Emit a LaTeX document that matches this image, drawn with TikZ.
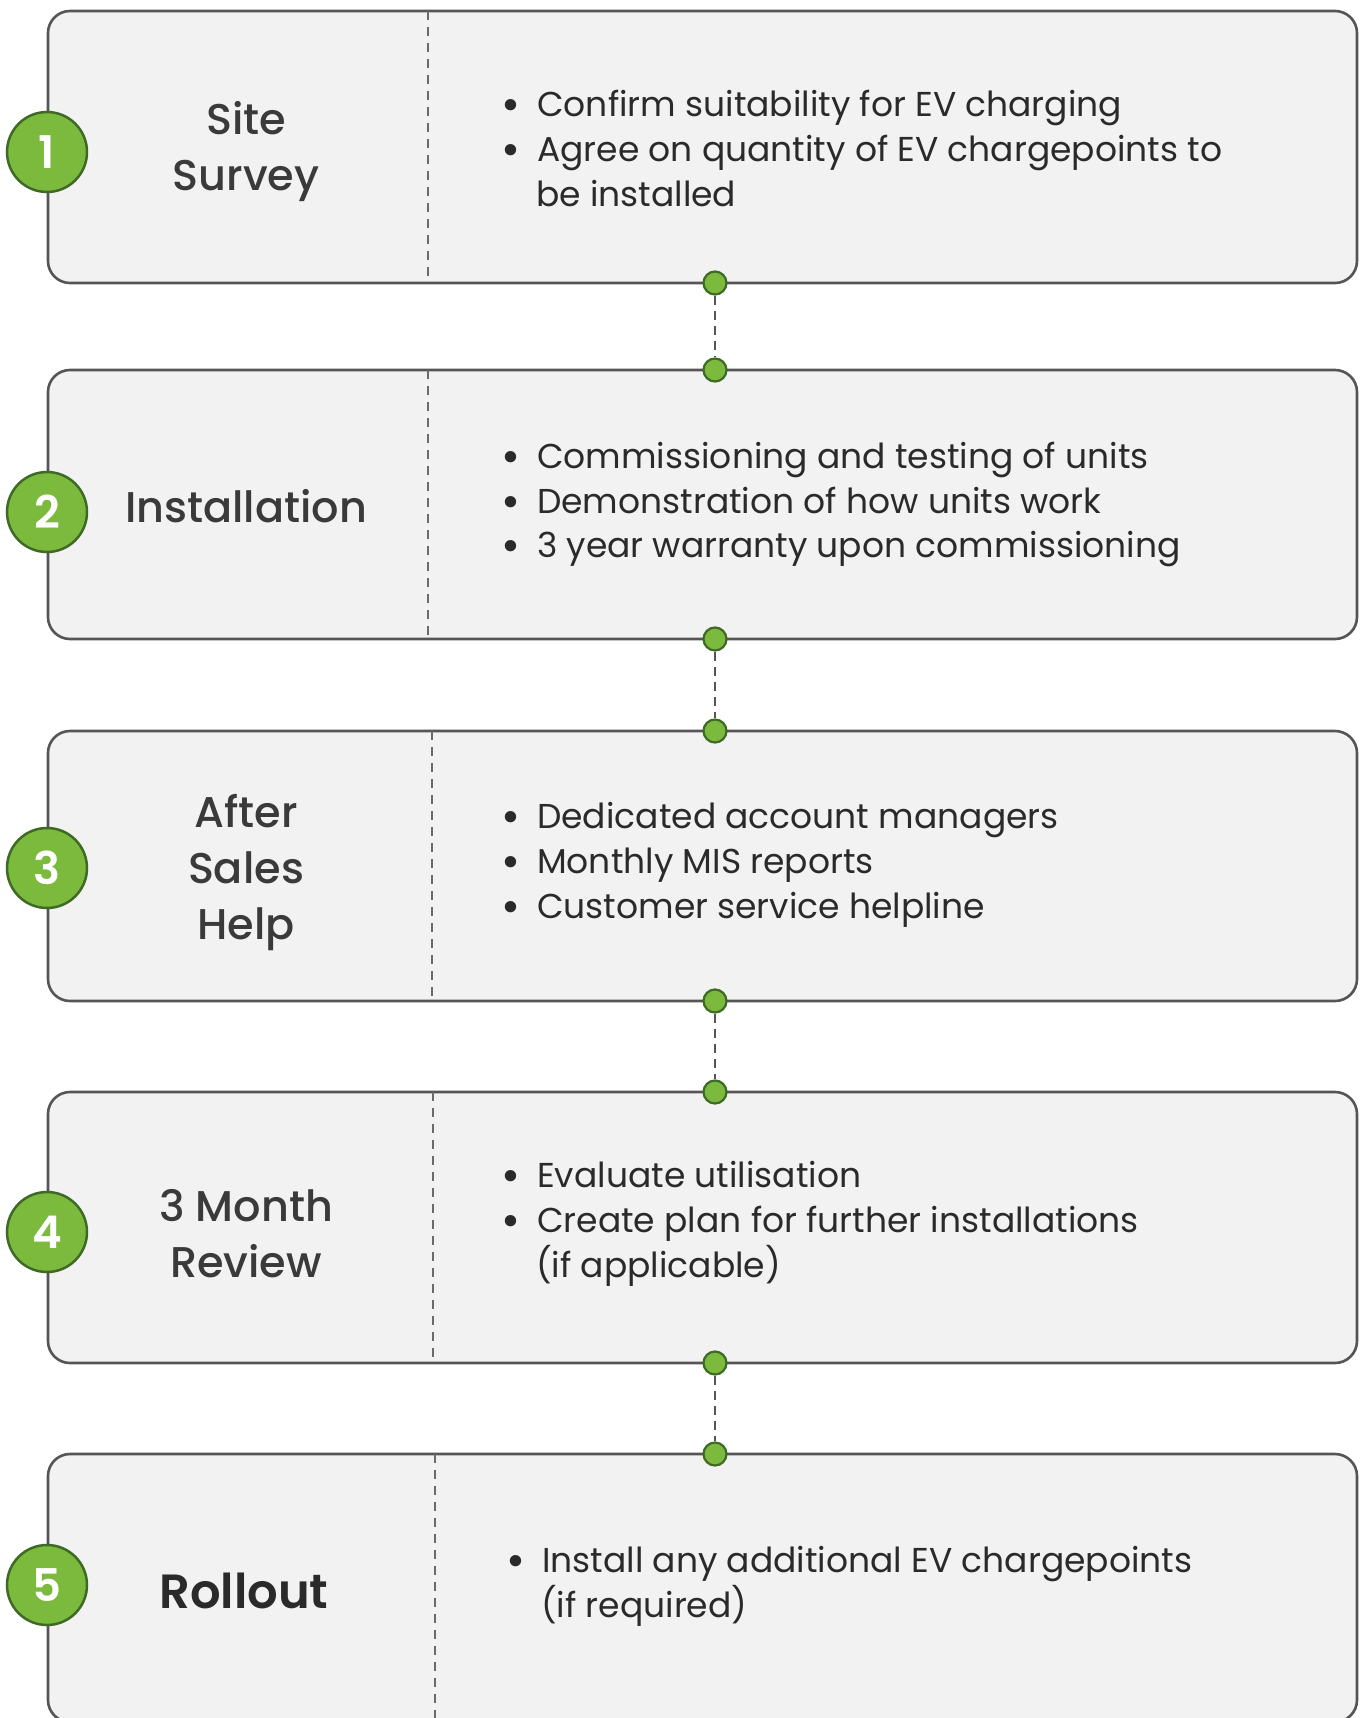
\documentclass[tikz,border=0pt]{standalone}
\usepackage{fontspec}
\setmainfont{Poppins}
\newfontfamily\headfont{Poppins}[UprightFont=* Medium]
\newfontfamily\boldhead{Poppins}[UprightFont=* SemiBold]
\definecolor{boxfill}{HTML}{F2F2F2}
\definecolor{boxline}{HTML}{555555}
\definecolor{divline}{HTML}{6A6A6A}
\definecolor{leaf}{HTML}{7CBA3D}
\definecolor{leafdark}{HTML}{3F6A25}
\definecolor{headtext}{HTML}{3A3A3A}
\definecolor{bodytext}{HTML}{2A2A2A}
\begin{document}
\begin{tikzpicture}[x=1pt,y=-1pt,
  stagebox/.style={draw=boxline, line width=2.6pt, fill=boxfill, rounded corners=22pt,
    minimum width=1309pt, inner sep=0pt},
  divider/.style={draw=divline, line width=2pt, dash pattern=on 9pt off 7pt},
  badge/.style={circle, draw=leafdark, line width=2.5pt, fill=leaf, minimum size=80pt,
    inner sep=0pt, text=white, font=\boldhead\fontsize{45}{45}\selectfont},
  dot/.style={circle, draw=leafdark, line width=2.2pt, fill=leaf, minimum size=23pt, inner sep=0pt},
  link/.style={draw=boxline, line width=2.8pt, dash pattern=on 9pt off 6pt},
  title/.style={anchor=center, align=center, text=headtext, inner sep=0pt,
    font=\headfont\fontsize{43}{56}\selectfont},
  bul/.style={anchor=mid west, text=bodytext, font=\fontsize{34.5}{45}\selectfont, inner sep=0pt},
  bulletsign/.style={anchor=center, text=bodytext, font=\fontsize{46}{46}\selectfont, inner sep=0pt},
]
\useasboundingbox (0,0) rectangle (1365,1718);
\fill[white] (0,0) rectangle (1365,1718);

% stage boxes
\node[stagebox, minimum height=272pt] (s1) at (702.5,147) {};
\node[stagebox, minimum height=269pt] (s2) at (702.5,504.5) {};
\node[stagebox, minimum height=270pt] (s3) at (702.5,866) {};
\node[stagebox, minimum height=271pt] (s4) at (702.5,1227.5) {};
\node[stagebox, minimum height=268pt] (s5) at (702.5,1588) {};

% dashed dividers between title and details
\draw[divider] (428,11) -- (428,283);
\draw[divider] (428,370) -- (428,639);
\draw[divider] (432,731) -- (432,1001);
\draw[divider] (433,1092) -- (433,1363);
\draw[divider] (435,1454) -- (435,1722);

% numbered badges
\node[badge] (n1) at (47,152) {1};
\node[badge] (n2) at (47,512) {2};
\node[badge] (n3) at (47,868) {3};
\node[badge] (n4) at (47,1232) {4};
\node[badge] (n5) at (47,1585) {5};

% titles
\node[title] (t1) at (246,151.5) {Site\\Survey};
\node[title] (t2) at (246,506) {Installation};
\node[title] (t3) at (246,873) {After\\Sales\\Help};
\node[title] (t4) at (246,1234) {3 Month\\Review};
\node[title, text=bodytext, font=\boldhead\fontsize{48}{56}\selectfont] (t5) at (244,1591) {Rollout};

% details
\node[bulletsign] (b1a) at (511,110) {•};
\node[bul] (l1a) at (537,114) {Confirm suitability for EV charging};
\node[bulletsign] (b1b) at (511,155) {•};
\node[bul] (l1b) at (537,159) {Agree on quantity of EV chargepoints to};
\node[bul] (l1c) at (536,204) {be installed};

\node[bulletsign] (b2a) at (511,462) {•};
\node[bul] (l2a) at (537,466) {Commissioning and testing of units};
\node[bulletsign] (b2b) at (511,507) {•};
\node[bul] (l2b) at (537,511) {Demonstration of how units work};
\node[bulletsign] (b2c) at (511,551) {•};
\node[bul] (l2c) at (537,555) {3 year warranty upon commissioning};

\node[bulletsign] (b3a) at (511,822) {•};
\node[bul] (l3a) at (537,826) {Dedicated account managers};
\node[bulletsign] (b3b) at (511,867) {•};
\node[bul] (l3b) at (537,871) {Monthly MIS reports};
\node[bulletsign] (b3c) at (511,912) {•};
\node[bul] (l3c) at (537,916) {Customer service helpline};

\node[bulletsign] (b4a) at (511,1181) {•};
\node[bul] (l4a) at (537,1185) {Evaluate utilisation};
\node[bulletsign] (b4b) at (511,1226) {•};
\node[bul] (l4b) at (537,1230) {Create plan for further installations};
\node[bul] (l4c) at (536,1275) {(if applicable)};

\node[bulletsign] (b5a) at (516,1566) {•};
\node[bul] (l5a) at (542,1570) {Install any additional EV chargepoints};
\node[bul] (l5b) at (541,1615) {(if required)};

% connectors between stages
\node[dot] (c1) at (715,283) {};
\node[dot] (c2) at (715,370) {};
\node[dot] (c3) at (715,639) {};
\node[dot] (c4) at (715,731) {};
\node[dot] (c5) at (715,1001) {};
\node[dot] (c6) at (715,1092) {};
\node[dot] (c7) at (715,1363) {};
\node[dot] (c8) at (715,1454) {};
\draw[link] (c1) -- (c2);
\draw[link] (c3) -- (c4);
\draw[link] (c5) -- (c6);
\draw[link] (c7) -- (c8);
\end{tikzpicture}
\end{document}
